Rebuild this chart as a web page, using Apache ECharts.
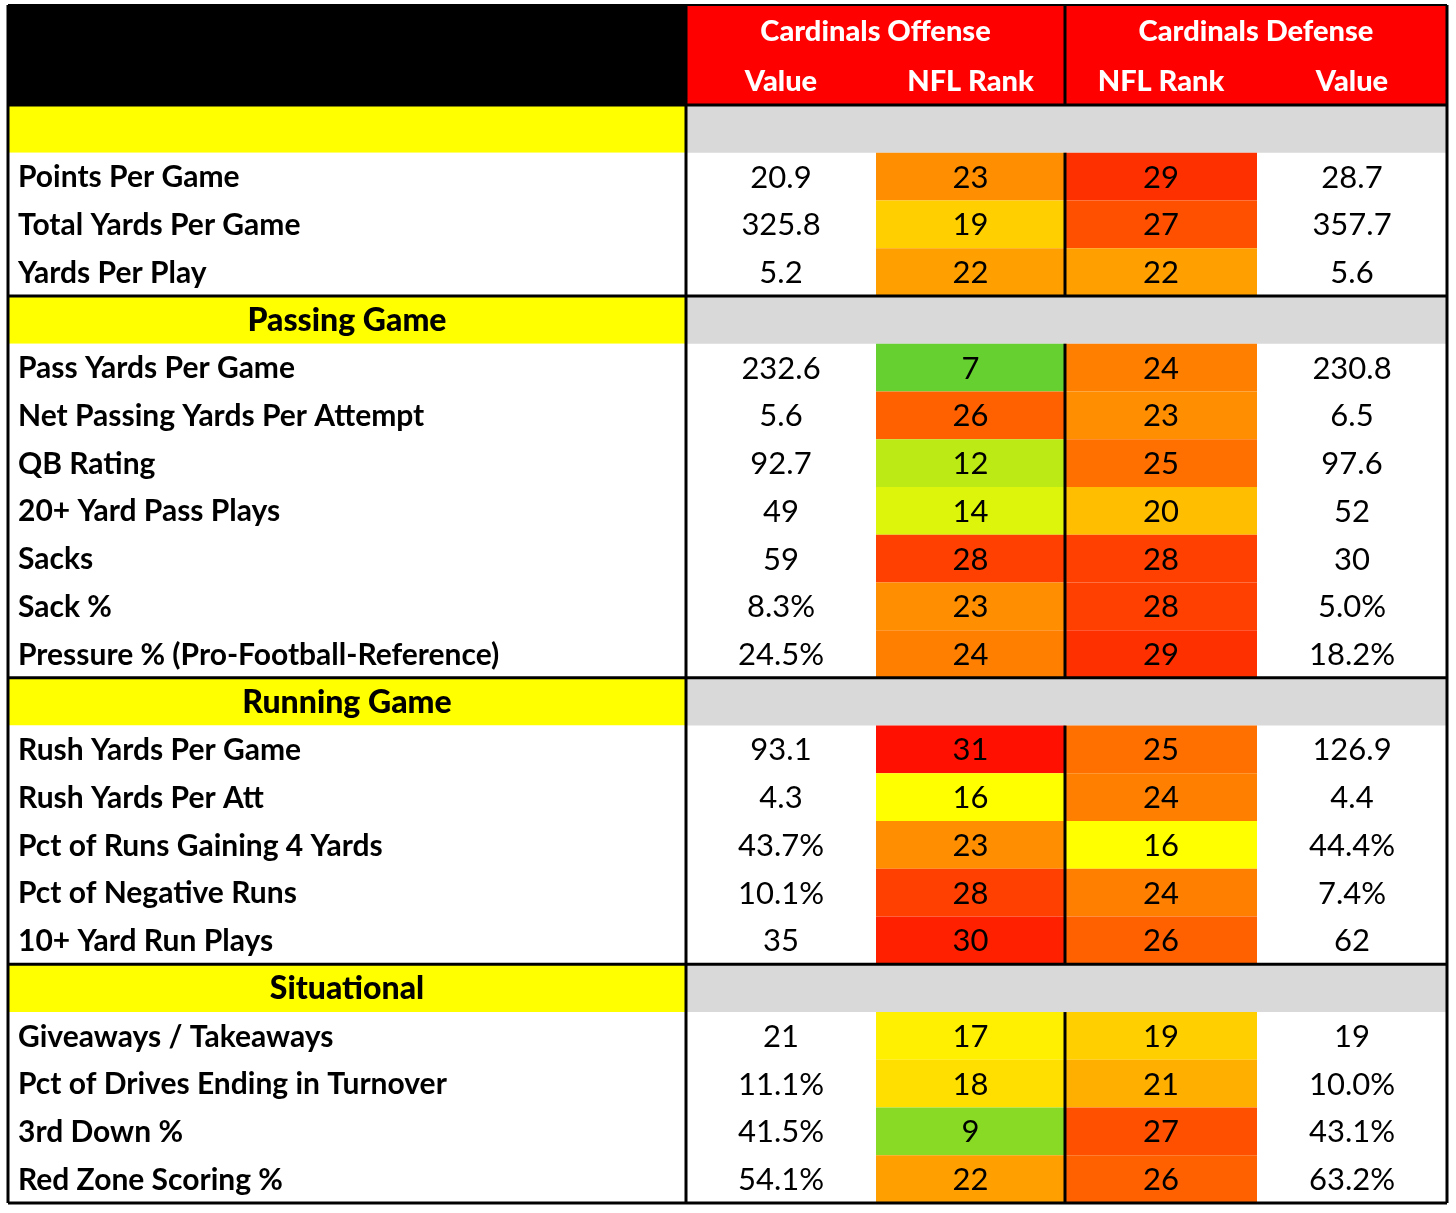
<!DOCTYPE html>
<html>
<head>
<meta charset="utf-8">
<script src="https://cdn.jsdelivr.net/npm/echarts@6/dist/echarts.min.js"></script>
<style>
  html, body { margin: 0; padding: 0; background: #fff; }
  #main { width: 1456px; height: 1213px; }
</style>
</head>
<body>
<div id="main"></div>
<script>
// table rows, top to bottom (section headers included)
var labels = ['', 'Points Per Game', 'Total Yards Per Game', 'Yards Per Play',
  'Passing Game', 'Pass Yards Per Game', 'Net Passing Yards Per Attempt', 'QB Rating',
  '20+ Yard Pass Plays', 'Sacks', 'Sack %', 'Pressure % (Pro-Football-Reference)',
  'Running Game', 'Rush Yards Per Game', 'Rush Yards Per Att', 'Pct of Runs Gaining 4 Yards',
  'Pct of Negative Runs', '10+ Yard Run Plays',
  'Situational', 'Giveaways / Takeaways', 'Pct of Drives Ending in Turnover', '3rd Down %',
  'Red Zone Scoring %'];
var sectionRows = [0, 4, 12, 18];

var offValue = ['', '20.9', '325.8', '5.2', '', '232.6', '5.6', '92.7', '49', '59', '8.3%', '24.5%',
  '', '93.1', '4.3', '43.7%', '10.1%', '35', '', '21', '11.1%', '41.5%', '54.1%'];
var offRank = [null, 23, 19, 22, null, 7, 26, 12, 14, 28, 23, 24,
  null, 31, 16, 23, 28, 30, null, 17, 18, 9, 22];
var defRank = [null, 29, 27, 22, null, 24, 23, 25, 20, 28, 28, 29,
  null, 25, 24, 16, 24, 26, null, 19, 21, 27, 26];
var defValue = ['', '28.7', '357.7', '5.6', '', '230.8', '6.5', '97.6', '52', '30', '5.0%', '18.2%',
  '', '126.9', '4.4', '44.4%', '7.4%', '62', '', '19', '10.0%', '43.1%', '63.2%'];

var groupHeaders = ['Cardinals Offense', 'Cardinals Defense'];
var colHeaders = ['Value', 'NFL Rank', 'NFL Rank', 'Value'];

// layout
var colWidths = [678, 190, 189, 192, 190];
var colEdges = [0];
colWidths.forEach(function (w, i) { colEdges.push(colEdges[i] + w); });
var headerRows = 2;
var headerHeights = [52, 48];
var bodyRowHeight = 1098 / labels.length;
var rowEdges = [0, headerHeights[0], headerHeights[0] + headerHeights[1]];
labels.forEach(function () { rowEdges.push(rowEdges[rowEdges.length - 1] + bodyRowHeight); });
var totalRows = headerRows + labels.length;
var FONT = 'Lato, "Open Sans", sans-serif';

function cellRect(api, c0, c1, r0, r1) {
  var a = api.coord([colEdges[c0], rowEdges[r0]]);
  var b = api.coord([colEdges[c1], rowEdges[r1]]);
  return { x: a[0], y: a[1], width: b[0] - a[0], height: b[1] - a[1] };
}

// header cells
var headerData = [];
headerData.push({ value: [0, 1, 0, 2], text: '', fill: '#000000' });
headerData.push({ value: [1, 3, 0, 1], text: groupHeaders[0], fill: '#FF0000' });
headerData.push({ value: [3, 5, 0, 1], text: groupHeaders[1], fill: '#FF0000' });
colHeaders.forEach(function (t, i) {
  headerData.push({ value: [i + 1, i + 2, 1, 2], text: t, fill: '#FF0000' });
});

// label column + section bands
var labelData = labels.map(function (t, i) {
  return [i + headerRows, sectionRows.indexOf(i) >= 0 ? 1 : 0];
});

// value cells
var valueData = [];
var valueText = [];
labels.forEach(function (t, i) {
  if (sectionRows.indexOf(i) >= 0) return;
  valueData.push([1, i + headerRows]); valueText.push(offValue[i]);
  valueData.push([4, i + headerRows]); valueText.push(defValue[i]);
});

// rank cells
var rankData = [];
labels.forEach(function (t, i) {
  if (offRank[i] != null) rankData.push([2, i + headerRows, offRank[i]]);
  if (defRank[i] != null) rankData.push([3, i + headerRows, defRank[i]]);
});

// rules: [col0, row0, col1, row1, width]
var lineData = [];
var ruleRows = [headerRows].concat(sectionRows.slice(1).map(function (r) { return r + headerRows; }))
  .concat([totalRows]);
lineData.push([0, 0, 5, 0, 2]);
ruleRows.forEach(function (r) { lineData.push([0, r, 5, r, 3]); });
[0, 1, 5].forEach(function (c) { lineData.push([c, 0, c, totalRows, 3]); });
// offense / defense divider skips the grey section bands
lineData.push([3, 0, 3, headerRows, 3]);
sectionRows.forEach(function (s, k) {
  var start = s + headerRows + 1;
  var end = k + 1 < sectionRows.length ? sectionRows[k + 1] + headerRows : totalRows;
  lineData.push([3, start, 3, end, 3]);
});

var chart = echarts.init(document.getElementById('main'));
chart.setOption({
  animation: false,
  grid: { left: 8, top: 5, width: 1439, height: 1198 },
  xAxis: { type: 'value', min: 0, max: colEdges[5], show: false },
  yAxis: { type: 'value', min: 0, max: rowEdges[totalRows], inverse: true, show: false },
  visualMap: {
    show: false,
    type: 'continuous',
    seriesIndex: 3,
    dimension: 2,
    min: 1,
    max: 31,
    inRange: { color: ['#00B050', '#FFFF00', '#FF1000'] }
  },
  series: [
    {
      type: 'custom',
      clip: false,
      data: headerData,
      renderItem: function (params, api) {
        var r = cellRect(api, api.value(0), api.value(1), api.value(2), api.value(3));
        var d = headerData[params.dataIndex];
        return {
          type: 'group',
          children: [
            { type: 'rect', shape: r, style: { fill: d.fill } },
            {
              type: 'text',
              style: {
                text: d.text, x: r.x + r.width / 2, y: r.y + r.height / 2 + 1,
                align: 'center', verticalAlign: 'middle',
                font: '900 29px ' + FONT, fill: '#FFFFFF'
              }
            }
          ]
        };
      }
    },
    {
      type: 'custom',
      clip: false,
      data: labelData,
      renderItem: function (params, api) {
        var row = api.value(0);
        var sec = api.value(1) === 1;
        var r = cellRect(api, 0, 1, row, row + 1);
        var children = [
          { type: 'rect', shape: r, style: { fill: sec ? '#FFFF00' : '#FFFFFF' } }
        ];
        if (sec) {
          children.push({ type: 'rect', shape: cellRect(api, 1, 5, row, row + 1), style: { fill: '#D9D9D9' } });
        }
        children.push({
          type: 'text',
          style: {
            text: labels[params.dataIndex],
            x: sec ? r.x + r.width / 2 : r.x + 10,
            y: r.y + r.height / 2 + 1,
            align: sec ? 'center' : 'left', verticalAlign: 'middle',
            font: (sec ? '900 32px ' : 'bold 30px ') + FONT, fill: '#000000'
          }
        });
        return { type: 'group', children: children };
      }
    },
    {
      type: 'custom',
      clip: false,
      data: valueData,
      renderItem: function (params, api) {
        var c = api.value(0), row = api.value(1);
        var r = cellRect(api, c, c + 1, row, row + 1);
        return {
          type: 'text',
          style: {
            text: valueText[params.dataIndex],
            x: r.x + r.width / 2, y: r.y + r.height / 2 + 1,
            align: 'center', verticalAlign: 'middle',
            font: '31px ' + FONT, fill: '#000000'
          }
        };
      }
    },
    {
      type: 'custom',
      clip: false,
      data: rankData,
      renderItem: function (params, api) {
        var c = api.value(0), row = api.value(1);
        var r = cellRect(api, c, c + 1, row, row + 1);
        return {
          type: 'group',
          children: [
            { type: 'rect', shape: r, style: { fill: api.visual('color') } },
            {
              type: 'text',
              style: {
                text: String(api.value(2)),
                x: r.x + r.width / 2, y: r.y + r.height / 2 + 1,
                align: 'center', verticalAlign: 'middle',
                font: '31px ' + FONT, fill: '#000000'
              }
            }
          ]
        };
      }
    },
    {
      type: 'custom',
      clip: false,
      data: lineData,
      renderItem: function (params, api) {
        var a = api.coord([colEdges[api.value(0)], rowEdges[api.value(1)]]);
        var b = api.coord([colEdges[api.value(2)], rowEdges[api.value(3)]]);
        return {
          type: 'line',
          shape: { x1: a[0], y1: a[1], x2: b[0], y2: b[1] },
          style: { stroke: '#000000', lineWidth: api.value(4) }
        };
      }
    }
  ]
});
</script>
</body>
</html>
